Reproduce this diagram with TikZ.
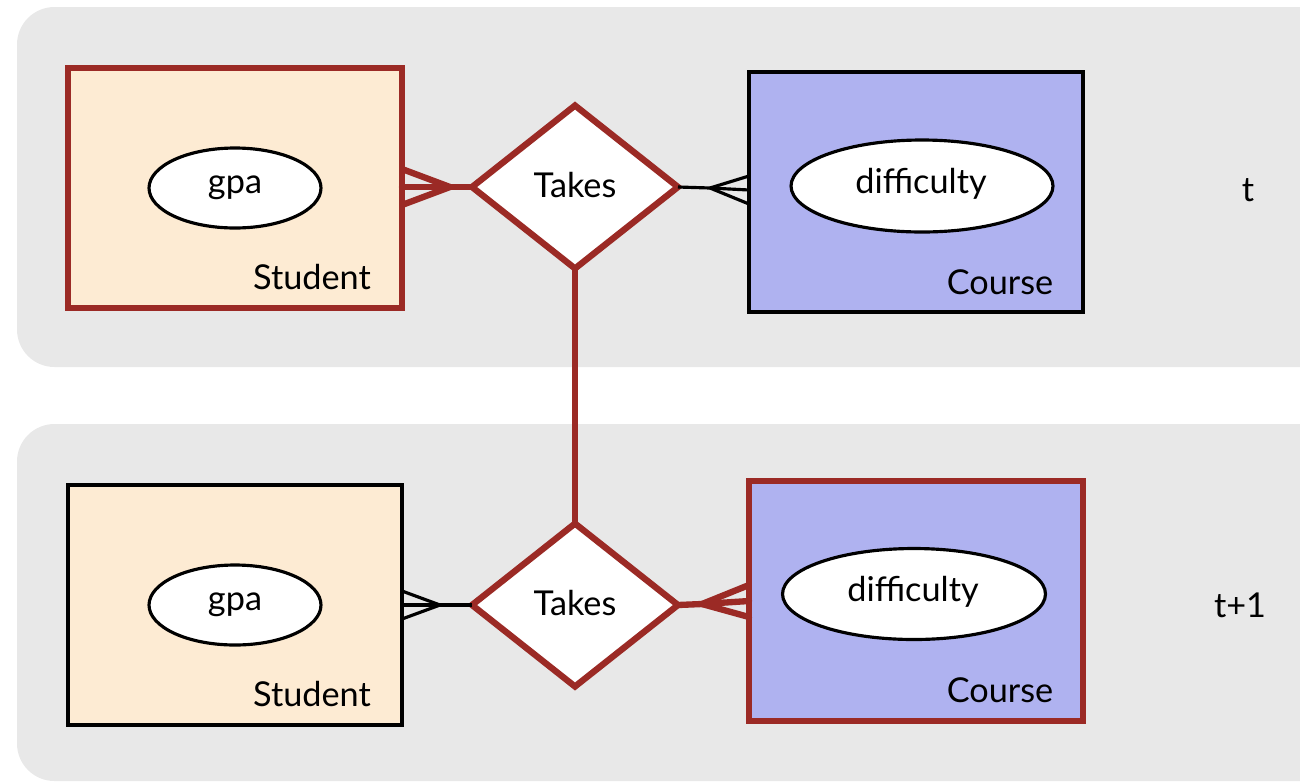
\documentclass[tikz,border=0pt]{standalone}
\usepackage{fontspec}
\setmainfont{Lato}
\usetikzlibrary{shapes.geometric}
\definecolor{erred}{HTML}{9B2A25}
\definecolor{cream}{HTML}{FDEBD3}
\definecolor{lav}{HTML}{AFB2F0}
\definecolor{panel}{HTML}{E8E8E8}
\tikzset{
  panelbox/.style={fill=panel, draw=none, rounded corners=0.75cm},
  ent/.style={rectangle, minimum width=6.68cm, minimum height=4.8cm, inner sep=0pt, outer sep=0pt},
  stud/.style={ent, fill=cream},
  crs/.style={ent, fill=lav},
  hot/.style={draw=erred, line width=3.6pt},
  cold/.style={draw=black, line width=1.8pt},
  attr/.style={ellipse, draw=black, line width=1.8pt, fill=white, inner sep=0pt, outer sep=0pt},
  rel/.style={diamond, draw=erred, line width=3.6pt, fill=white, minimum width=4.12cm, minimum height=3.26cm, inner sep=0pt, outer sep=0pt},
  lbl/.style={inner sep=0pt, font=\fontsize{19.5}{22}\selectfont},
  hotline/.style={draw=erred, line width=3.6pt, line cap=round},
  coldline/.style={draw=black, line width=1.8pt},
}
\begin{document}
\begin{tikzpicture}[x=0.02cm, y=-0.02cm]
\useasboundingbox (0,0) rectangle (1300,782);
\fill[panelbox] (17,7) rectangle (1360,367);
\fill[panelbox] (17,424) rectangle (1360,781);

% top row
\node[stud, hot] (s1) at (235,188) {};
\node[attr, minimum width=3.44cm, minimum height=1.6cm] (g1) at (235,188) {};
\node[lbl] at (235,188) {gpa};
\node[lbl] (s1l) at (312,277) {Student};
\node[rel] (r1) at (575,187) {};
\node[lbl] at (575,185) {Takes};
\node[crs, cold] (c1) at (916,192) {};
\node[attr, minimum width=5.24cm, minimum height=1.84cm] (d1) at (922,186) {};
\node[lbl] at (921,184) {difficulty};
\node[lbl] (c1l) at (1000,282) {Course};
\node[lbl] (t1) at (1248,190) {t};

% bottom row
\node[stud, cold] (s2) at (235,605) {};
\node[attr, minimum width=3.44cm, minimum height=1.6cm] (g2) at (235,605) {};
\node[lbl] at (235,605) {gpa};
\node[lbl] (s2l) at (312,694) {Student};
\node[rel] (r2) at (575,605) {};
\node[lbl] at (575,603) {Takes};
\node[crs, hot] (c2) at (916,601) {};
\node[attr, minimum width=5.26cm, minimum height=1.82cm] (d2) at (914,594) {};
\node[lbl] at (913,592) {difficulty};
\node[lbl] (c2l) at (1000,690) {Course};
\node[lbl] (t2) at (1240,605) {t+1};

% link between relations
\draw[hotline] (r1.south) -- (r2.north);

% crow's feet top-left (red)
\coordinate (f1) at (450,187);
\draw[hotline] (r1.west) -- (f1);
\draw[hotline] (f1) -- (402,169);
\draw[hotline] (f1) -- (402,187);
\draw[hotline] (f1) -- (402,205);

% crow's foot top-right (black)
\coordinate (f2) at (710,188);
\draw[coldline] (r1.east) -- (f2);
\draw[coldline] (f2) -- (749,176);
\draw[coldline] (f2) -- (749,190);
\draw[coldline] (f2) -- (749,204);

% crow's foot bottom-left (black)
\coordinate (f3) at (440,605);
\draw[coldline] (r2.west) -- (f3);
\draw[coldline] (f3) -- (402,591);
\draw[coldline] (f3) -- (402,605);
\draw[coldline] (f3) -- (402,619);

% crow's foot bottom-right (red)
\coordinate (f4) at (702,604);
\draw[hotline] (r2.east) -- (f4);
\draw[hotline] (f4) -- (749,585);
\draw[hotline] (f4) -- (749,601);
\draw[hotline] (f4) -- (749,617);
\end{tikzpicture}
\end{document}
